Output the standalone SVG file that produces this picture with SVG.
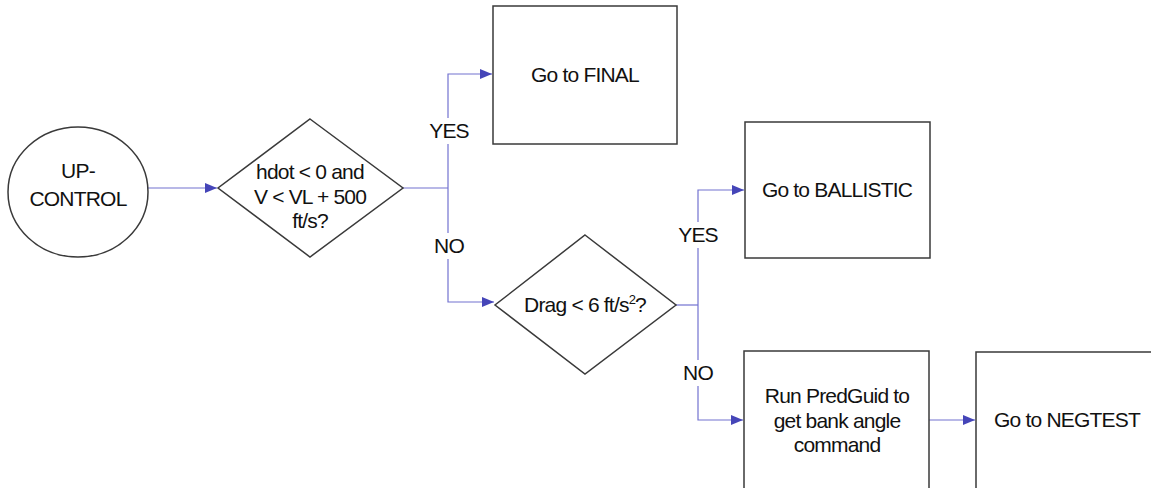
<svg xmlns="http://www.w3.org/2000/svg" width="1151" height="488" viewBox="0 0 1151 488">
  <style>
    .shape { fill: #ffffff; stroke: #3a3a3a; stroke-width: 1.5; }
    .txt { font-family: "Liberation Sans", Arial, sans-serif; font-size: 21px; letter-spacing: -0.8px; fill: #111111; text-anchor: middle; }
    .wire { fill: none; stroke: #7272d0; stroke-width: 1.2; }
  </style>
  <defs>
    <marker id="arrow" viewBox="0 0 12 10" refX="12" refY="5" markerWidth="12" markerHeight="10" markerUnits="userSpaceOnUse" orient="auto">
      <path d="M0,0 L12,5 L0,10 Z" fill="#4545b8"/>
    </marker>
  </defs>
  <rect width="1151" height="488" fill="#ffffff"/>

  <!-- connectors -->
  <g id="connectors">
    <path class="wire" d="M148,188 H217" marker-end="url(#arrow)"/>
    <path class="wire" d="M403,188 H448"/>
    <path class="wire" d="M448,188 V74 H492" marker-end="url(#arrow)"/>
    <path class="wire" d="M448,188 V302 H494" marker-end="url(#arrow)"/>
    <path class="wire" d="M676,305 H698"/>
    <path class="wire" d="M698,305 V190 H744" marker-end="url(#arrow)"/>
    <path class="wire" d="M698,305 V420 H743" marker-end="url(#arrow)"/>
    <path class="wire" d="M929,420 H975" marker-end="url(#arrow)"/>
    <!-- branch labels sit on the wires -->
    <rect x="429" y="118" width="38" height="26" fill="#ffffff"/>
    <text class="txt" x="449" y="138">YES</text>
    <rect x="431" y="233" width="36" height="26" fill="#ffffff"/>
    <text class="txt" x="449" y="253">NO</text>
    <rect x="679" y="222" width="38" height="26" fill="#ffffff"/>
    <text class="txt" x="698" y="242">YES</text>
    <rect x="681" y="360" width="36" height="26" fill="#ffffff"/>
    <text class="txt" x="698" y="380">NO</text>
  </g>

  <g id="up-control">
    <ellipse class="shape" cx="78" cy="192" rx="70" ry="65"/>
    <text class="txt" x="78" y="178">UP-</text>
    <text class="txt" x="78" y="206">CONTROL</text>
  </g>

  <g id="check-hdot">
    <polygon class="shape" points="310,119 403,188 310,257 218,188"/>
    <text class="txt" x="310" y="179">hdot &lt; 0 and</text>
    <text class="txt" x="310" y="204">V &lt; VL + 500</text>
    <text class="txt" x="310" y="228">ft/s?</text>
  </g>

  <g id="final">
    <rect class="shape" x="493" y="6" width="184" height="138"/>
    <text class="txt" x="585" y="82">Go to FINAL</text>
  </g>

  <g id="check-drag">
    <polygon class="shape" points="585,235 676,305 585,374 495,305"/>
    <text class="txt" x="585" y="312">Drag &lt; 6 ft/s<tspan dy="-8" font-size="13">2</tspan><tspan dy="8">?</tspan></text>
  </g>

  <g id="ballistic">
    <rect class="shape" x="745" y="122" width="185" height="136"/>
    <text class="txt" x="837" y="197">Go to BALLISTIC</text>
  </g>

  <g id="predguid">
    <rect class="shape" x="744" y="351" width="185" height="150"/>
    <text class="txt" x="837" y="403">Run PredGuid to</text>
    <text class="txt" x="837" y="428">get bank angle</text>
    <text class="txt" x="837" y="452">command</text>
  </g>

  <g id="negtest">
    <rect class="shape" x="976" y="352" width="190" height="150"/>
    <text class="txt" x="1067" y="427">Go to NEGTEST</text>
  </g>
</svg>
